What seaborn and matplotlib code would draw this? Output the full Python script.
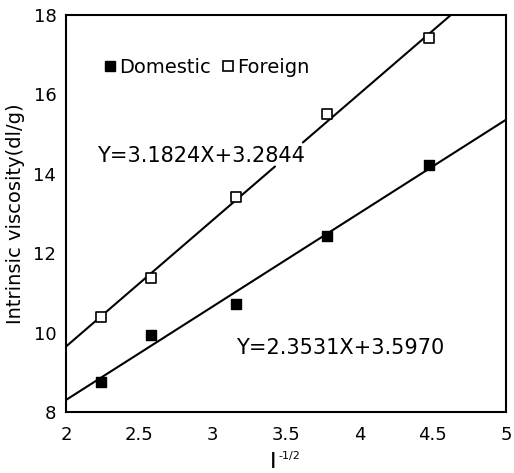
import matplotlib
matplotlib.use("Agg")
import matplotlib.pyplot as plt
import seaborn as sns
import numpy as np
import pandas as pd
from matplotlib.lines import Line2D

sns.set_theme(style="white")
plt.rcParams['font.family'] = ['DejaVu Sans']
plt.rcParams['text.color'] = 'black'
plt.rcParams['axes.labelcolor'] = 'black'

x_vals = [2.236, 2.582, 3.162, 3.780, 4.472]
domestic = [8.76, 9.95, 10.72, 12.44, 14.23]
foreign = [10.40, 11.37, 13.41, 15.50, 17.41]
dom_slope, dom_int = 2.3531, 3.5970
for_slope, for_int = 3.1824, 3.2844
x_ticks = [2, 2.5, 3, 3.5, 4, 4.5, 5]
x_ticklabels = ["2", "2.5", "3", "3.5", "4", "4.5", "5"]
y_ticks = [8, 10, 12, 14, 16, 18]

df = pd.DataFrame({
    "x": x_vals * 2,
    "y": domestic + foreign,
    "group": ["Domestic"] * 5 + ["Foreign"] * 5,
})

fig = plt.figure(figsize=(5.14, 4.73), dpi=100)
ax = fig.add_axes([66 / 514, 1 - 412 / 473, (506 - 66) / 514, (412 - 15) / 473])

# fitted lines
xl = np.linspace(2, 5, 300)
yd = dom_slope * xl + dom_int
yf = for_slope * xl + for_int
ax.plot(xl, yd, color="black", lw=1.5, zorder=2)
mask1 = xl <= 3.43
mask2 = xl >= 3.61
ax.plot(xl[mask1], yf[mask1], color="black", lw=1.5, zorder=2)
ax.plot(xl[mask2], yf[mask2], color="black", lw=1.5, zorder=2)

sns.scatterplot(data=df[df.group == "Domestic"], x="x", y="y", ax=ax,
                marker="s", s=60, color="black", edgecolor="black",
                linewidth=1, zorder=3, legend=False)
sns.scatterplot(data=df[df.group == "Foreign"], x="x", y="y", ax=ax,
                marker="s", s=60, facecolor="white", edgecolor="black",
                linewidth=1.2, zorder=3, legend=False)

ax.set_xlim(2, 5)
ax.set_ylim(8, 18)
ax.set_xticks(x_ticks)
ax.set_xticklabels(x_ticklabels)
ax.set_yticks(y_ticks)
ax.tick_params(direction="in", length=4, width=1, labelsize=13,
               colors="black", labelcolor="black")
ax.tick_params(axis="x", pad=10)
ax.tick_params(axis="y", pad=7)
for sp in ax.spines.values():
    sp.set_color("black")
    sp.set_linewidth(1.5)

ax.set_xlabel("")
ax.set_ylabel("Intrinsic viscosity(dl/g)", fontsize=14, labelpad=6, color="black")
fig.text(273 / 514, 1 - 452 / 473, "I", fontsize=16, ha="center", va="top", color="black")
fig.text(278 / 514, 1 - 451 / 473, "-1/2", fontsize=8, ha="left", va="top", color="black")

handles = [
    Line2D([], [], marker="s", ls="none", color="black", markersize=7),
    Line2D([], [], marker="s", ls="none", markerfacecolor="white",
           markeredgecolor="black", markeredgewidth=1.2, markersize=7),
]
leg = ax.legend(handles, ["Domestic", "Foreign"], ncol=2, frameon=False,
                loc="center left", bbox_to_anchor=(0.065, 0.869),
                handletextpad=0.05, columnspacing=0.5, handlelength=0.8,
                borderaxespad=0, fontsize=14, labelcolor="black")

ax.text(2.21, 14.46, "Y=3.1824X+3.2844", fontsize=15, va="center", ha="left", color="black")
ax.text(3.16, 9.62, "Y=2.3531X+3.5970", fontsize=15, va="center", ha="left", color="black")

fig.savefig("out.png", dpi=100)
